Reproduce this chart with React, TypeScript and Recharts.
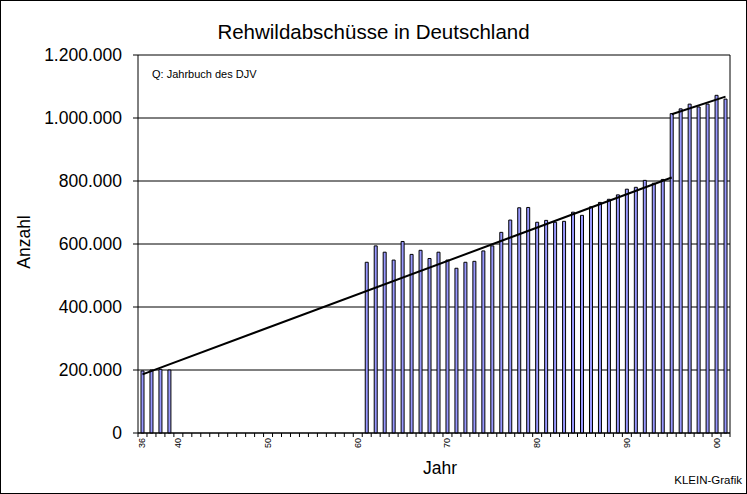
import React from 'react';
import { ComposedChart, Bar, Line, XAxis, YAxis, CartesianGrid } from 'recharts';

const years: string[] = [
  '36', '37', '38', '39', '40', '41', '42', '43', '44', '45', '46', '47', '48', '49',
  '50', '51', '52', '53', '54', '55', '56', '57', '58', '59',
  '60', '61', '62', '63', '64', '65', '66', '67', '68', '69',
  '70', '71', '72', '73', '74', '75', '76', '77', '78', '79',
  '80', '81', '82', '83', '84', '85', '86', '87', '88', '89',
  '90', '91', '92', '93', '94', '95', '96', '97', '98', '99',
  '00', '01',
];

const labeledYears: string[] = ['36', '40', '50', '60', '70', '80', '90', '00'];

const shots: (number | null)[] = [
  197000, 200000, 202000, 200000,
  null, null, null, null, null, null, null, null, null, null,
  null, null, null, null, null, null, null, null, null, null,
  null,
  542000, 594000, 574000, 549000, 608000, 567000, 580000, 554000, 574000,
  549000, 523000, 542000, 545000, 578000, 594000, 637000, 676000, 715000, 716000,
  669000, 675000, 669000, 672000, 701000, 691000, 718000, 732000, 742000, 756000,
  774000, 780000, 802000, 793000, 805000, 1014000, 1029000, 1044000, 1035000, 1044000,
  1072000, 1060000,
];

const trendWest = [
  { year: '36', value: 186000 },
  { year: '95', value: 811000 },
];

const trendEast = [
  { year: '95', value: 1012000 },
  { year: '01', value: 1068000 },
];

const yTicks: number[] = [0, 200000, 400000, 600000, 800000, 1000000, 1200000];

const data = years.map((year, i) => ({
  year,
  shots: shots[i],
  trendWest: trendWest.find((p) => p.year === year)?.value ?? null,
  trendEast: trendEast.find((p) => p.year === year)?.value ?? null,
}));

const FONT = '"Liberation Sans", Arial, Helvetica, sans-serif';

const fmt = (v: number) => String(v).replace(/\B(?=(\d{3})+(?!\d))/g, '.');

const XTick = (props: any) => {
  const { x, y, payload, index } = props;
  const half = payload && typeof payload.offset === 'number' && payload.offset > 0 ? payload.offset : 4.5;
  const show = labeledYears.includes(payload.value);
  const ly = y + 5;
  return (
    <g>
      <line x1={x - half} y1={y} x2={x - half} y2={y + 4} stroke="#000" strokeWidth={1} />
      {index === years.length - 1 && (
        <line x1={x + half} y1={y} x2={x + half} y2={y + 4} stroke="#000" strokeWidth={1} />
      )}
      {show && (
        <text
          x={x}
          y={ly}
          transform={`rotate(-90, ${x}, ${ly})`}
          textAnchor="end"
          dominantBaseline="central"
          fontSize={9}
          fontFamily={FONT}
          fill="#000"
        >
          {payload.value}
        </text>
      )}
    </g>
  );
};

export default function App() {
  return (
    <div style={{ position: 'absolute', left: 0, top: 0, width: 747, height: 494, background: '#fff' }}>
      <ComposedChart
        width={747}
        height={494}
        data={data}
        margin={{ top: 55, right: 16, bottom: 31, left: 0 }}
      >
        <CartesianGrid vertical={false} stroke="#000" strokeWidth={1} />
        <XAxis
          dataKey="year"
          interval={0}
          height={30}
          tickSize={0}
          tickMargin={0}
          tickLine={false}
          axisLine={{ stroke: '#000', strokeWidth: 1 }}
          tick={<XTick />}
        />
        <YAxis
          width={138}
          domain={[0, 1200000]}
          ticks={yTicks}
          interval={0}
          tickFormatter={fmt}
          tickSize={5}
          tickMargin={11}
          axisLine={{ stroke: '#000', strokeWidth: 1 }}
          tickLine={{ stroke: '#000', strokeWidth: 1 }}
          tick={{ fill: '#000', fontSize: 17.5, fontFamily: FONT }}
        />
        <YAxis
          yAxisId="r"
          orientation="right"
          width={1}
          domain={[0, 1200000]}
          tick={false}
          tickLine={false}
          axisLine={{ stroke: '#000', strokeWidth: 1 }}
        />
        <Bar
          dataKey="shots"
          fill="#9999FF"
          stroke="#000"
          strokeWidth={1}
          barSize={3}
          isAnimationActive={false}
        />
        <Line
          dataKey="trendWest"
          stroke="#000"
          strokeWidth={2}
          dot={false}
          connectNulls
          isAnimationActive={false}
        />
        <Line
          dataKey="trendEast"
          stroke="#000"
          strokeWidth={2}
          dot={false}
          connectNulls
          isAnimationActive={false}
        />
      </ComposedChart>
      <svg
        width={747}
        height={494}
        style={{ position: 'absolute', left: 0, top: 0, pointerEvents: 'none' }}
      >
        <rect x={0.5} y={0.5} width={746} height={493} fill="none" stroke="#000" strokeWidth={1} />
        <text x={373.5} y={38.5} textAnchor="middle" fontSize={20.5} fontFamily={FONT} fill="#000">
          Rehwildabschüsse in Deutschland
        </text>
        <text x={152} y={78} fontSize={11} fontFamily={FONT} fill="#000">
          Q: Jahrbuch des DJV
        </text>
        <text
          transform="translate(30, 242) rotate(-90)"
          x={0}
          y={0}
          textAnchor="middle"
          fontSize={17.5}
          fontFamily={FONT}
          fill="#000"
        >
          Anzahl
        </text>
        <text x={440} y={474} textAnchor="middle" fontSize={17.5} fontFamily={FONT} fill="#000">
          Jahr
        </text>
        <text x={742} y={484} textAnchor="end" fontSize={11.5} fontFamily={FONT} fill="#000">
          KLEIN-Grafik
        </text>
      </svg>
    </div>
  );
}
